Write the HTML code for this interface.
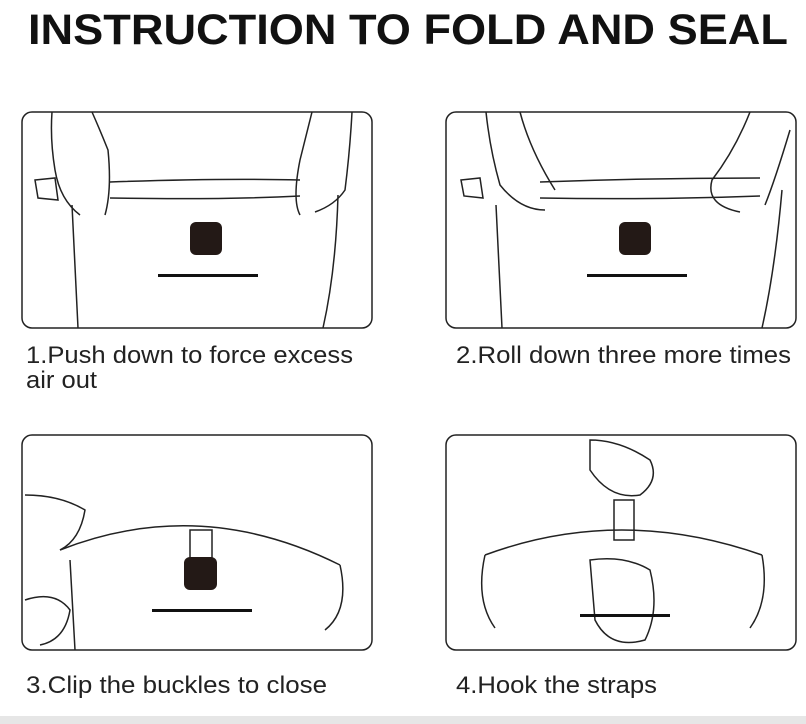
<!DOCTYPE html>
<html><head><style>
body{margin:0;width:806px;height:724px;background:#fff;overflow:hidden;font-family:"Liberation Sans",sans-serif}
svg{position:absolute;left:0;top:0}
</style></head><body>
<svg width="806" height="724" viewBox="0 0 806 724">
<text x="408" y="44" text-anchor="middle" font-family="Liberation Sans" font-weight="bold" font-size="43" fill="#111" textLength="760" lengthAdjust="spacingAndGlyphs">INSTRUCTION TO FOLD AND SEAL</text>
<g fill="none" stroke="#222" stroke-width="1.5">
<rect x="22" y="112" width="350" height="216" rx="10"/>
<rect x="446" y="112" width="350" height="216" rx="10"/>
<rect x="22" y="435" width="350" height="215" rx="10"/>
<rect x="446" y="435" width="350" height="215" rx="10"/>
<path d="M72 205 Q75 270 78 328 M338 195 Q336 270 323 328"/>
<path d="M110 182 Q220 178 300 180 M110 198 Q220 200 300 196"/>
<path d="M52 112 Q50 140 55 170 Q60 200 80 215 M92 112 Q100 130 108 150 Q112 190 105 215"/>
<path d="M312 112 Q305 140 300 160 Q292 200 300 215 M352 112 Q350 150 345 190 Q335 205 315 212"/>
<path d="M35 180 L55 178 L58 200 L38 198 Z"/>
<path d="M496 205 Q499 270 502 328 M782 190 Q775 270 762 328"/>
<path d="M540 182 Q650 178 760 178 M540 198 Q650 200 760 196"/>
<path d="M486 112 Q490 150 500 185 Q520 210 545 210 M520 112 Q530 150 555 190"/>
<path d="M750 112 Q735 150 712 180 Q705 205 740 212 M790 130 Q775 180 765 205"/>
<path d="M461 180 L480 178 L483 198 L464 196 Z"/>
<path d="M60 550 Q200 495 340 565 M340 565 Q350 610 325 630"/>
<path d="M70 560 L75 650 M25 495 Q60 495 85 510 Q80 540 60 550 M25 600 Q55 590 70 610 Q65 640 40 645"/>
<rect x="190" y="530" width="22" height="28"/>
<path d="M485 555 Q620 505 762 555 M485 555 Q475 600 495 628 M762 555 Q770 600 750 628"/>
<path d="M590 440 Q620 440 650 460 Q660 480 640 495 Q610 500 590 470 Z"/>
<path d="M590 560 Q625 555 650 570 Q660 610 645 640 Q610 650 595 620 Z"/>
<rect x="614" y="500" width="20" height="40"/>
</g>
<rect x="190" y="222" width="32" height="33" rx="6" fill="#231916"/>
<rect x="158" y="274" width="100" height="3" fill="#111"/>
<rect x="619" y="222" width="32" height="33" rx="6" fill="#231916"/>
<rect x="587" y="274" width="100" height="3" fill="#111"/>
<rect x="184" y="557" width="33" height="33" rx="6" fill="#231916"/>
<rect x="152" y="609" width="100" height="3" fill="#111"/>
<rect x="580" y="614" width="90" height="3" fill="#111"/>
<g font-family="Liberation Sans" font-size="24" fill="#222">
<text x="26" y="363" textLength="327" lengthAdjust="spacingAndGlyphs">1.Push down to force excess</text>
<text x="26" y="388" textLength="71" lengthAdjust="spacingAndGlyphs">air out</text>
<text x="456" y="363" textLength="335" lengthAdjust="spacingAndGlyphs">2.Roll down three more times</text>
<text x="26" y="693" textLength="301" lengthAdjust="spacingAndGlyphs">3.Clip the buckles to close</text>
<text x="456" y="693" textLength="201" lengthAdjust="spacingAndGlyphs">4.Hook the straps</text>
</g>
<rect x="0" y="716" width="806" height="8" fill="#e6e6e6"/>
</svg>
</body></html>
